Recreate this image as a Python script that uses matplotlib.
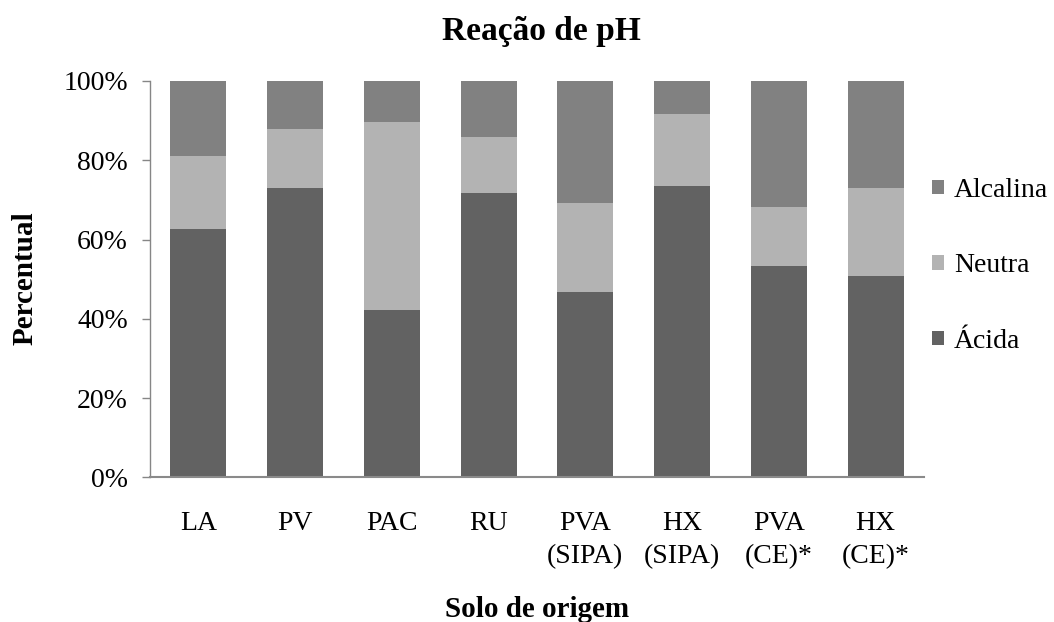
import matplotlib
matplotlib.use("Agg")
import matplotlib.pyplot as plt
import numpy as np

categories = ["LA", "PV", "PAC", "RU", "PVA\n(SIPA)", "HX\n(SIPA)", "PVA\n(CE)*", "HX\n(CE)*"]
acida = [62.7, 73.1, 42.3, 71.7, 46.8, 73.5, 53.3, 50.8]
neutra = [18.4, 14.8, 47.4, 14.2, 22.4, 18.2, 14.9, 22.2]
alcalina = [18.9, 12.1, 10.3, 14.1, 30.8, 8.3, 31.8, 27.0]
yticks = [0, 20, 40, 60, 80, 100]
ytick_labels = ["0%", "20%", "40%", "60%", "80%", "100%"]

plt.rcParams['font.family'] = ['Liberation Serif', 'DejaVu Serif']

fig = plt.figure(figsize=(10.54, 6.22), dpi=100)
ax = fig.add_axes([150/1054, 1-477.3/622, (924-150)/1054, (477.3-81)/622])

x = np.arange(len(categories))
w = 0.58
c_ac, c_ne, c_al = "#626262", "#b3b3b3", "#818181"
b1 = ax.bar(x, acida, w, color=c_ac, label="Ácida")
b2 = ax.bar(x, neutra, w, bottom=acida, color=c_ne, label="Neutra")
bottom2 = [a + n for a, n in zip(acida, neutra)]
b3 = ax.bar(x, alcalina, w, bottom=bottom2, color=c_al, label="Alcalina")

ax.set_xlim(-0.5, len(categories) - 0.5)
ax.set_ylim(0, 100)
ax.set_yticks(yticks)
ax.set_yticklabels(ytick_labels, fontsize=20)
ax.set_xticks(x)
ax.set_xticklabels(categories, fontsize=20, linespacing=1.45)
ax.tick_params(axis='x', length=0, pad=24)
ax.tick_params(axis='y', length=5.8, width=1, color="#868686", pad=10)
for s in ["top", "right"]:
    ax.spines[s].set_visible(False)
ax.spines["left"].set_color("#868686")
ax.spines["bottom"].set_color("#8a8a8a")
ax.spines["left"].set_linewidth(1)
ax.spines["bottom"].set_linewidth(1.5)

fig.text(541/1054, 1-40/622, "Reação de pH", ha="center", va="baseline", fontsize=24, fontweight="bold")
fig.text(33/1054, 1-278/622, "Percentual", ha="center", va="baseline", rotation=90,
         rotation_mode="anchor", fontsize=21, fontweight="bold")
fig.text(537/1054, 1-617/622, "Solo de origem", ha="center", va="baseline", fontsize=21, fontweight="bold")

leg = fig.legend(handles=[b3, b2, b1], labels=["Alcalina", "Neutra", "Ácida"],
                 loc="center left", bbox_to_anchor=(921/1054, 1-266/622),
                 frameon=False, fontsize=20, handlelength=0.42, handleheight=0.42,
                 handletextpad=0.36, labelspacing=1.82, borderaxespad=0)

fig.savefig("out.png", dpi=100)
